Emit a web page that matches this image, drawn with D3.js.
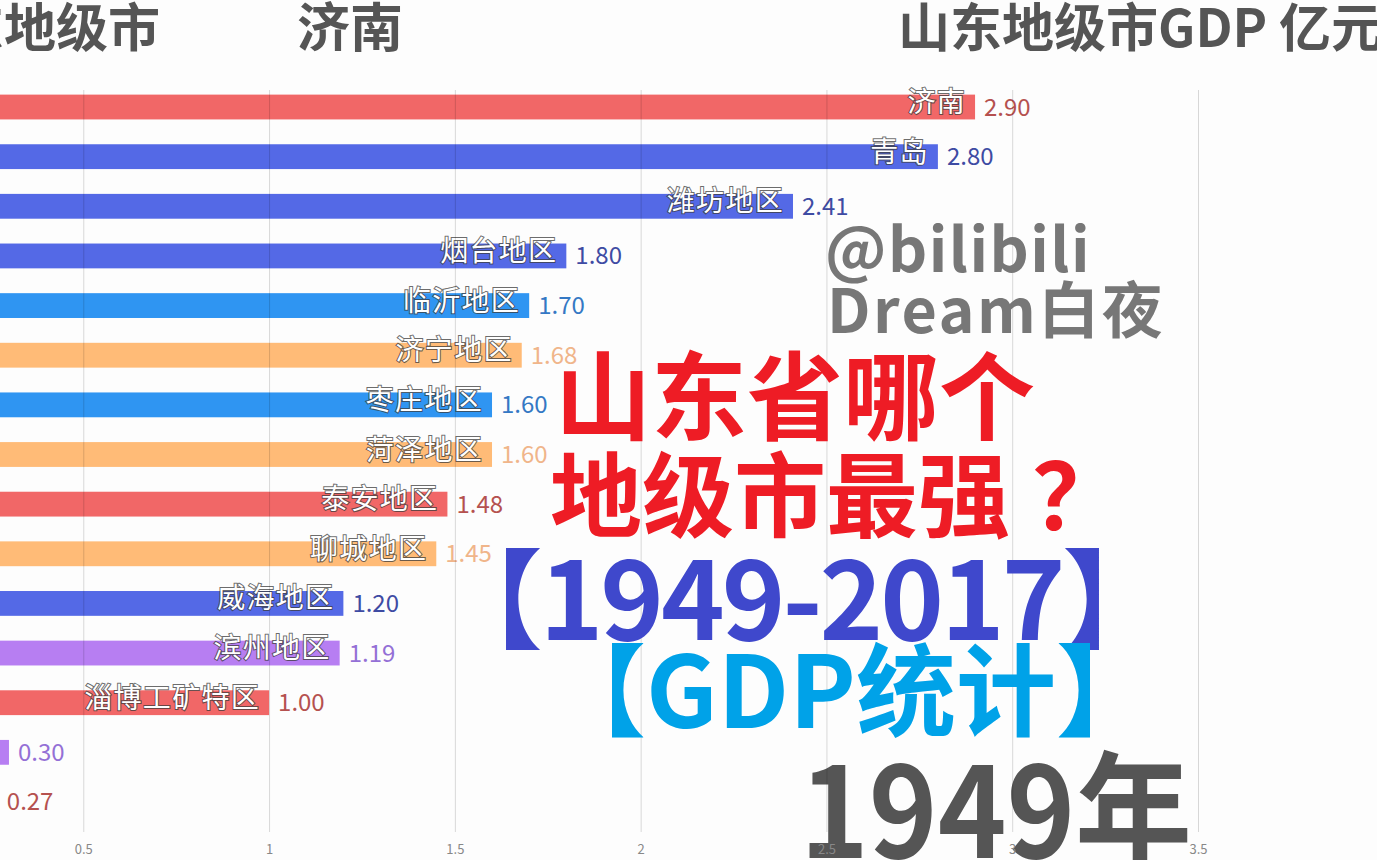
<!DOCTYPE html>
<html>
<head>
<meta charset="utf-8">
<script src="https://cdn.jsdelivr.net/npm/d3@7"></script>
<style>
  html, body { margin: 0; padding: 0; background: #fdfdfd; overflow: hidden; }
  svg { display: block; }
  text { font-family: "Noto Sans CJK SC", "Noto Sans", sans-serif; }
</style>
</head>
<body>
<svg id="chart" width="1377" height="860"></svg>
<script>
// ---- data ----
const categories = ["济南", "青岛", "潍坊地区", "烟台地区", "临沂地区", "济宁地区", "枣庄地区", "菏泽地区",
                    "泰安地区", "聊城地区", "威海地区", "滨州地区", "淄博工矿特区", "德州地区", "日照地区"];
const values = [2.90, 2.80, 2.41, 1.80, 1.70, 1.68, 1.60, 1.60, 1.48, 1.45, 1.20, 1.19, 1.00, 0.30, 0.27];
const barColors = ["#f16767", "#5469e6", "#5469e6", "#5469e6", "#2f95f2", "#ffbb77", "#2f95f2", "#ffbb77",
                   "#f16767", "#ffbb77", "#5469e6", "#b77ef2", "#f16767", "#b77ef2", "#f16767"];
const valueColors = ["#b5514f", "#3e4ba3", "#3e4ba3", "#3e4ba3", "#3478c4", "#f0b58a", "#3478c4", "#f0b58a",
                     "#b5514f", "#f0b58a", "#3e4ba3", "#9470d6", "#b5514f", "#9470d6", "#b5514f"];
const tickValues = [0.5, 1, 1.5, 2, 2.5, 3, 3.5];
const tickLabels = ["0.5", "1", "1.5", "2", "2.5", "3", "3.5"];
const currentYear = "1949年";
const leader = "济南";

const rows = categories.map((c, i) => ({ name: c, value: values[i], color: barColors[i], vcolor: valueColors[i] }));

const svg = d3.select("#chart");

const x = d3.scaleLinear().domain([0, 3.5]).range([-102.5, 1198]);
const y = d3.scaleBand().domain(categories).range([82.2, 826.8]).paddingInner(0.5).paddingOuter(0.25);

// header texts
svg.append("text").attr("x", 160).attr("y", 47).attr("text-anchor", "end")
  .attr("font-size", 52).attr("font-weight", 700).attr("fill", "#555").text("山东地级市");
svg.append("text").attr("x", 350).attr("y", 47).attr("text-anchor", "middle")
  .attr("font-size", 53).attr("font-weight", 700).attr("fill", "#555").text(leader);
svg.append("text").attr("x", 1383).attr("y", 47).attr("text-anchor", "end")
  .attr("font-size", 52).attr("font-weight", 700).attr("fill", "#555").text("山东地级市GDP 亿元");

// year (behind axis)
svg.append("text").attr("x", 800).attr("y", 858).attr("font-size", 126).attr("font-weight", 700)
  .attr("textLength", 392).attr("lengthAdjust", "spacingAndGlyphs")
  .attr("fill", "#555").text(currentYear);

// bars
const g = svg.append("g");
g.selectAll("rect.bar").data(rows).join("rect")
  .attr("class", "bar")
  .attr("x", x(0))
  .attr("y", d => y(d.name))
  .attr("width", d => x(d.value) - x(0))
  .attr("height", y.bandwidth())
  .attr("fill", d => d.color);

// gridlines (drawn over bars, translucent)
const axis = d3.axisBottom(x).tickValues(tickValues).tickFormat((d, i) => tickLabels[i]).tickSize(-(832 - 90)).tickPadding(13);
const ax = svg.append("g").attr("transform", "translate(0,832)").call(axis);
ax.select(".domain").remove();
ax.selectAll(".tick line").attr("stroke", "rgba(0,0,0,0.15)").attr("stroke-width", 1);
ax.selectAll(".tick text").attr("fill", "#888").attr("font-size", 13)
  .attr("font-family", "'Noto Sans', sans-serif");

// bar name labels
g.selectAll("text.name").data(rows).join("text")
  .attr("class", "name")
  .attr("x", d => x(d.value) - 9)
  .attr("y", d => y(d.name) + y.bandwidth() / 2 + 5)
  .attr("text-anchor", "end")
  .attr("font-size", 28)
  .attr("letter-spacing", 1.3)
  .attr("fill", "#ffffff")
  .attr("stroke", "rgba(60,60,60,0.75)")
  .attr("stroke-width", 2)
  .attr("paint-order", "stroke")
  .text(d => d.name);

// value labels
g.selectAll("text.val").data(rows).join("text")
  .attr("class", "val")
  .attr("x", d => x(d.value) + 9)
  .attr("y", d => y(d.name) + y.bandwidth() / 2 + 8.5)
  .attr("font-size", 24)
  .attr("font-family", "'Noto Sans', sans-serif")
  .attr("fill", d => d.vcolor)
  .text(d => d.value.toFixed(2));

// watermark
svg.append("text").attr("x", 825).attr("y", 272).attr("font-size", 61).attr("font-weight", 700)
  .attr("letter-spacing", 1.5).attr("fill", "#777").text("@bilibili");
svg.append("text").attr("x", 827).attr("y", 333).attr("font-size", 61).attr("font-weight", 700)
  .attr("letter-spacing", 2.5).attr("fill", "#777").text("Dream白夜");

// overlay title
svg.append("text").attr("x", 555).attr("y", 432).attr("font-size", 96).attr("font-weight", 700)
  .attr("fill", "#ee1c25").text("山东省哪个");
const l2 = svg.append("text").attr("x", 550).attr("y", 530).attr("font-size", 92).attr("font-weight", 700)
  .attr("fill", "#ee1c25");
l2.append("tspan").text("地级市最强");
l2.append("tspan").attr("dx", 22).text("？");
svg.append("text").attr("x", 801).attr("y", 640).attr("text-anchor", "middle").attr("font-size", 108).attr("font-weight", 700)
  .attr("letter-spacing", -3).attr("fill", "#3f48cc").text("【1949-2017】");
svg.append("text").attr("x", 851).attr("y", 728).attr("text-anchor", "middle").attr("font-size", 100).attr("font-weight", 700)
  .attr("fill", "#00a2e8").text("【GDP统计】");
</script>
</body>
</html>
